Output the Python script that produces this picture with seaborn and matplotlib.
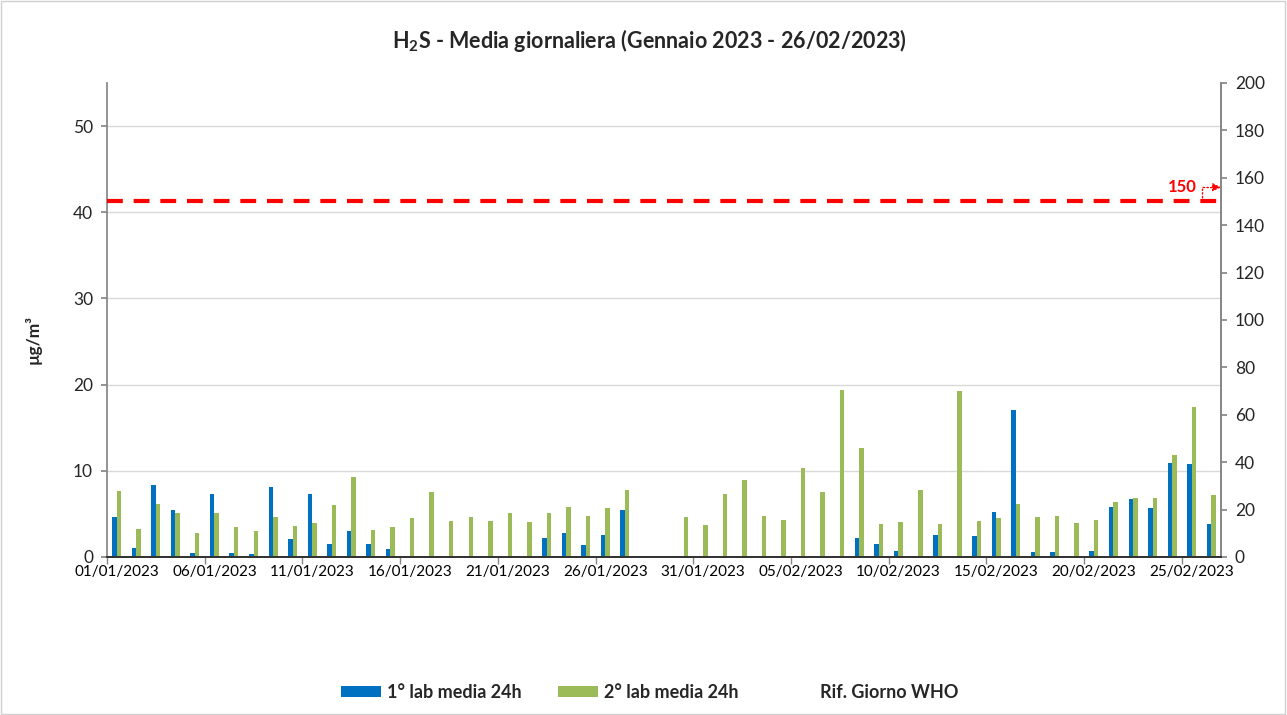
import numpy as np
import pandas as pd
import matplotlib
matplotlib.use("Agg")
import matplotlib.pyplot as plt
import seaborn as sns
from matplotlib.patches import Patch, Rectangle
from matplotlib.lines import Line2D

# ---------------- data ----------------
days = pd.date_range("2023-01-01", "2023-02-26").strftime("%d/%m/%Y").tolist()
nan = np.nan

lab1_24h = [4.6, 1.1, 8.3, 5.4, 0.5, 7.3, 0.5, 0.3, 8.1, 2.1,
            7.3, 1.5, 3.0, 1.5, 0.9, nan, nan, nan, nan, nan,
            nan, nan, 2.2, 2.8, 1.4, 2.5, 5.4, nan, nan,
            nan, nan, nan, nan, nan, nan, nan, nan, nan,
            2.2, 1.5, 0.75, 0.15, 2.6, nan, 2.4, 5.2, 17.0, 0.55,
            0.55, nan, 0.75, 5.8, 6.7, 5.7, 10.9, 10.8, 3.8]
lab2_24h = [7.6, 3.2, 6.1, 5.1, 2.8, 5.1, 3.5, 3.0, 4.6, 3.6,
            3.9, 6.0, 9.3, 3.1, 3.5, 4.5, 7.5, 4.2, 4.6, 4.2,
            5.1, 4.1, 5.1, 5.8, 4.8, 5.7, 7.8, nan, nan,
            4.6, 3.7, 7.3, 8.9, 4.7, 4.3, 10.3, 7.5, 19.4,
            12.6, 3.85, 4.1, 7.8, 3.8, 19.3, 4.2, 4.5, 6.1, 4.6,
            4.8, 3.9, 4.3, 6.4, 6.85, 6.8, 11.8, 17.4, 7.2]
who_ref = 150

series_names = ["1° lab media 24h", "2° lab media 24h", "Rif. Giorno WHO"]
left_ticks = [0, 10, 20, 30, 40, 50]
right_ticks = list(range(0, 201, 20))

BLUE = "#0070C0"
GREEN = "#9BBB59"
RED = "#FF0000"
AXC = "#868686"

df = pd.DataFrame({
    "day": days * 2,
    "value": lab1_24h + lab2_24h,
    "series": [series_names[0]] * len(days) + [series_names[1]] * len(days),
})

# ---------------- style ----------------
sns.set_theme(style="white")
plt.rcParams["font.family"] = ["Lato", "DejaVu Sans"]
plt.rcParams["mathtext.default"] = "regular"

fig = plt.figure(figsize=(12.87, 7.15), dpi=100)
fig.patches.append(Rectangle((0.0005, 0.001), 0.998, 0.997, transform=fig.transFigure,
                             fill=False, edgecolor="#d0d0d0", linewidth=1))

ax = fig.add_axes([0.0831, 0.221, 0.8656, 0.663])
sns.barplot(data=df, x="day", y="value", hue="series", order=days,
            hue_order=series_names[:2], palette=[BLUE, GREEN],
            width=0.46, dodge=True, gap=0, saturation=1, errorbar=None,
            legend=False, linewidth=0, edgecolor="none", ax=ax)

ax.set_xlim(-0.5, len(days) - 0.5)
ax.set_ylim(0, 55)
ax.set_yticks(left_ticks)
ax.set_yticklabels([str(t) for t in left_ticks], fontsize=12.5)
ax.set_xticks(range(0, len(days), 5))
ax.set_xticklabels(days[::5], fontsize=11)
ax.set_xticks(np.arange(-0.5, len(days) - 1, 5), minor=True)
ax.tick_params(axis="x", which="major", length=0, pad=6, colors="black")
ax.tick_params(axis="x", which="minor", length=5, color=AXC, direction="out", bottom=True)
ax.tick_params(axis="y", length=4, color=AXC, direction="out", left=True, pad=6)
ax.set_xlabel("")
ax.set_ylabel("")
ax.grid(axis="y", color="#d9d9d9", linewidth=1)
ax.set_axisbelow(True)
for s in ["left", "bottom", "right"]:
    ax.spines[s].set_color(AXC)
ax.spines["top"].set_visible(False)

ax2 = ax.twinx()
ax2.set_ylim(0, 200)
ax2.set_yticks(right_ticks)
ax2.set_yticklabels([str(t) for t in right_ticks], fontsize=12.5)
ax2.tick_params(axis="y", length=4, color=AXC, direction="out", right=True, pad=6)
ax2.spines["top"].set_visible(False)
ax2.spines["right"].set_color(AXC)
ax2.spines["left"].set_visible(False)
ax2.axhline(who_ref, color=RED, linewidth=3, dashes=(3.8, 2.6), zorder=5)

xr = len(days) - 0.5
ax2.annotate("", xy=(xr, who_ref + 6), xytext=(xr - 0.95, who_ref),
             arrowprops=dict(arrowstyle="-|>", color=RED, linestyle=":", linewidth=1,
                             connectionstyle="angle,angleA=90,angleB=0,rad=0",
                             shrinkA=0, shrinkB=0, mutation_scale=12),
             annotation_clip=False, zorder=6)
ax2.text(xr - 2.0, who_ref + 6, f"{who_ref:g}", color=RED, fontsize=12,
         fontweight="bold", ha="center", va="center")

fig.text(0.505, 1 - 40 / 715, "H$_2$S - Media giornaliera (Gennaio 2023 - 26/02/2023)",
         ha="center", va="center", fontsize=15.5, fontweight="bold")
fig.text(33 / 1287, 1 - 340 / 715, "µg/m³", rotation=90, ha="center", va="center",
         fontsize=12.5, fontweight="bold")

handles = [Patch(facecolor=BLUE, edgecolor="none"),
           Patch(facecolor=GREEN, edgecolor="none"),
           Line2D([], [], color="none")]
fig.legend(handles, series_names, loc="center", bbox_to_anchor=(0.505, 1 - 692 / 715),
           ncol=3, frameon=False, prop={"weight": "bold", "size": 13},
           handlelength=2.2, handleheight=0.55, handletextpad=0.35, columnspacing=2.0)

fig.savefig("out.png", dpi=100)
